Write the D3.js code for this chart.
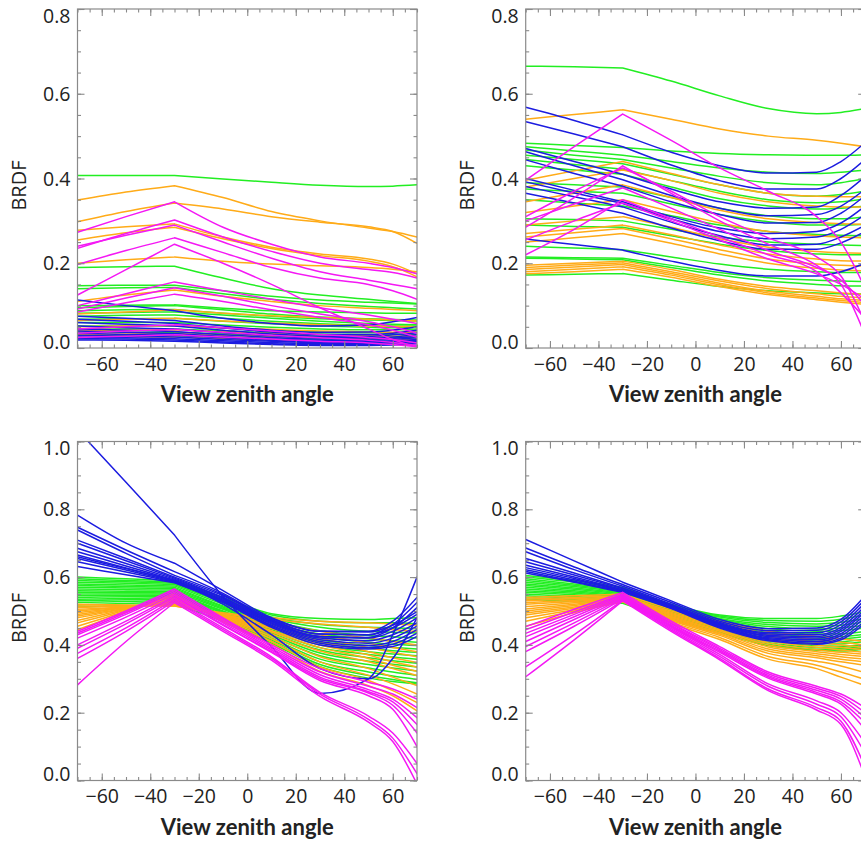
<!DOCTYPE html>
<html><head><meta charset="utf-8">
<script src="https://cdn.jsdelivr.net/npm/d3@7"></script>
<style>body{margin:0;background:#fff} svg{display:block}</style>
</head><body>
<script>
// View zenith angles at which each BRDF curve is sampled
const angles = [-70, -50, -30, -10, 10, 30, 50, 60, 70];
const xTicks = [-60, -40, -20, 0, 20, 40, 60];
const yTicksTop = [0, 0.2, 0.4, 0.6, 0.8];
const yTicksBottom = [0, 0.2, 0.4, 0.6, 0.8, 1.0];

// ---------- top-left panel ----------
const tlGreen = [
 [0.407,0.407,0.407,0.399,0.391,0.384,0.381,0.382,0.385],
 [0.190,0.192,0.193,0.165,0.140,0.125,0.115,0.110,0.105],
 [0.147,0.148,0.148,0.135,0.122,0.113,0.108,0.106,0.104],
 [0.140,0.142,0.143,0.128,0.115,0.105,0.098,0.095,0.092],
 [0.100,0.101,0.102,0.094,0.088,0.085,0.083,0.082,0.082],
 [0.095,0.098,0.100,0.090,0.080,0.073,0.069,0.067,0.066],
 [0.088,0.090,0.091,0.082,0.075,0.069,0.066,0.065,0.064],
 [0.082,0.084,0.085,0.078,0.070,0.063,0.058,0.056,0.055],
 [0.075,0.077,0.078,0.070,0.063,0.057,0.053,0.052,0.052],
 [0.068,0.069,0.070,0.063,0.057,0.052,0.049,0.048,0.050],
 [0.060,0.060,0.060,0.054,0.049,0.045,0.043,0.043,0.045],
 [0.052,0.052,0.052,0.047,0.042,0.038,0.036,0.036,0.038],
 [0.045,0.045,0.045,0.040,0.036,0.033,0.031,0.031,0.032],
 [0.038,0.037,0.037,0.033,0.030,0.027,0.025,0.025,0.026],
 [0.030,0.029,0.029,0.026,0.023,0.021,0.020,0.020,0.021]
];
const tlOrange = [
 [0.349,0.368,0.383,0.355,0.322,0.300,0.283,0.275,0.262],
 [0.298,0.322,0.342,0.328,0.310,0.297,0.286,0.275,0.247],
 [0.278,0.286,0.293,0.262,0.238,0.222,0.210,0.198,0.175],
 [0.255,0.272,0.285,0.258,0.235,0.218,0.205,0.192,0.168],
 [0.200,0.208,0.215,0.205,0.198,0.194,0.190,0.186,0.180],
 [0.110,0.125,0.137,0.122,0.110,0.100,0.094,0.091,0.088],
 [0.080,0.085,0.090,0.082,0.076,0.072,0.068,0.066,0.064],
 [0.065,0.068,0.070,0.064,0.059,0.055,0.052,0.051,0.050],
 [0.050,0.052,0.053,0.048,0.044,0.040,0.038,0.037,0.037],
 [0.040,0.042,0.043,0.038,0.034,0.031,0.029,0.028,0.028],
 [0.032,0.033,0.034,0.030,0.027,0.024,0.022,0.021,0.020],
 [0.025,0.026,0.026,0.022,0.019,0.017,0.015,0.014,0.013]
];
const tlBlue = [
 [0.113,0.100,0.088,0.070,0.058,0.052,0.055,0.062,0.072],
 [0.075,0.070,0.065,0.052,0.042,0.037,0.038,0.042,0.050],
 [0.068,0.063,0.058,0.047,0.038,0.032,0.032,0.035,0.042],
 [0.060,0.056,0.052,0.042,0.033,0.028,0.028,0.031,0.036],
 [0.052,0.048,0.045,0.036,0.029,0.024,0.024,0.026,0.032],
 [0.045,0.042,0.039,0.031,0.025,0.021,0.021,0.023,0.027],
 [0.040,0.037,0.034,0.027,0.021,0.018,0.018,0.020,0.024],
 [0.035,0.032,0.030,0.024,0.018,0.015,0.015,0.017,0.020],
 [0.030,0.028,0.026,0.020,0.016,0.013,0.013,0.015,0.018],
 [0.026,0.024,0.022,0.017,0.013,0.010,0.010,0.012,0.015],
 [0.022,0.021,0.019,0.014,0.010,0.008,0.008,0.009,0.012],
 [0.019,0.018,0.016,0.012,0.008,0.006,0.006,0.007,0.010]
];
const tlMagenta = [
 [0.273,0.310,0.345,0.285,0.245,0.215,0.200,0.190,0.175],
 [0.235,0.270,0.302,0.262,0.228,0.200,0.185,0.178,0.165],
 [0.240,0.266,0.290,0.250,0.212,0.180,0.160,0.150,0.140],
 [0.197,0.230,0.260,0.225,0.190,0.165,0.150,0.135,0.115],
 [0.125,0.185,0.245,0.200,0.150,0.095,0.045,0.020,0.002],
 [0.100,0.128,0.156,0.135,0.115,0.095,0.078,0.068,0.058],
 [0.092,0.118,0.142,0.122,0.100,0.080,0.062,0.050,0.035],
 [0.085,0.107,0.127,0.110,0.090,0.072,0.055,0.042,0.025],
 [0.045,0.050,0.055,0.048,0.040,0.032,0.025,0.020,0.012],
 [0.035,0.040,0.044,0.037,0.030,0.024,0.018,0.013,0.006],
 [0.025,0.028,0.031,0.026,0.021,0.016,0.012,0.008,0.003]
];

// ---------- top-right panel ----------
const trGreen = [
 [0.665,0.664,0.661,0.630,0.595,0.565,0.553,0.556,0.565],
 [0.483,0.478,0.473,0.465,0.459,0.456,0.455,0.455,0.456],
 [0.475,0.465,0.455,0.440,0.425,0.415,0.412,0.415,0.420],
 [0.467,0.455,0.445,0.425,0.405,0.390,0.385,0.390,0.400],
 [0.455,0.445,0.435,0.410,0.385,0.365,0.358,0.362,0.370],
 [0.445,0.433,0.422,0.395,0.370,0.350,0.343,0.345,0.352],
 [0.430,0.420,0.410,0.380,0.352,0.335,0.328,0.330,0.335],
 [0.390,0.385,0.380,0.355,0.330,0.312,0.305,0.305,0.310],
 [0.375,0.370,0.365,0.340,0.315,0.298,0.290,0.290,0.292],
 [0.350,0.342,0.335,0.312,0.290,0.275,0.268,0.266,0.265],
 [0.305,0.303,0.300,0.280,0.262,0.250,0.245,0.243,0.242],
 [0.290,0.287,0.285,0.265,0.245,0.230,0.222,0.220,0.220],
 [0.240,0.236,0.232,0.215,0.198,0.186,0.180,0.178,0.178],
 [0.215,0.213,0.212,0.195,0.178,0.166,0.160,0.158,0.157],
 [0.212,0.210,0.208,0.190,0.172,0.158,0.150,0.147,0.146],
 [0.172,0.174,0.176,0.160,0.145,0.135,0.130,0.128,0.127]
];
const trOrange = [
 [0.540,0.551,0.562,0.540,0.517,0.500,0.490,0.483,0.475],
 [0.396,0.418,0.440,0.412,0.385,0.365,0.358,0.357,0.357],
 [0.380,0.400,0.420,0.395,0.365,0.345,0.335,0.333,0.333],
 [0.345,0.365,0.385,0.355,0.325,0.305,0.296,0.293,0.292],
 [0.320,0.335,0.350,0.322,0.295,0.275,0.265,0.262,0.260],
 [0.290,0.300,0.310,0.285,0.258,0.238,0.228,0.225,0.223],
 [0.270,0.280,0.290,0.267,0.243,0.222,0.210,0.206,0.205],
 [0.262,0.272,0.282,0.258,0.232,0.210,0.198,0.195,0.193],
 [0.250,0.260,0.270,0.247,0.222,0.200,0.188,0.184,0.182],
 [0.195,0.200,0.205,0.185,0.162,0.145,0.135,0.130,0.126],
 [0.190,0.196,0.201,0.180,0.158,0.140,0.128,0.122,0.118],
 [0.185,0.191,0.197,0.176,0.153,0.134,0.122,0.116,0.112],
 [0.180,0.186,0.192,0.172,0.149,0.130,0.118,0.112,0.107],
 [0.175,0.180,0.186,0.167,0.145,0.126,0.114,0.108,0.103]
];
const trBlue = [
 [0.568,0.537,0.503,0.462,0.430,0.413,0.415,0.440,0.485],
 [0.534,0.505,0.475,0.432,0.395,0.375,0.375,0.400,0.445],
 [0.471,0.440,0.410,0.375,0.345,0.330,0.333,0.360,0.405],
 [0.463,0.430,0.397,0.360,0.330,0.312,0.315,0.335,0.375],
 [0.444,0.412,0.382,0.345,0.315,0.295,0.296,0.318,0.360],
 [0.400,0.372,0.345,0.310,0.283,0.270,0.275,0.295,0.335],
 [0.392,0.366,0.341,0.305,0.275,0.258,0.262,0.280,0.315],
 [0.381,0.357,0.333,0.297,0.265,0.243,0.245,0.262,0.290],
 [0.365,0.342,0.318,0.283,0.253,0.233,0.233,0.248,0.275],
 [0.257,0.244,0.231,0.205,0.183,0.170,0.170,0.180,0.200]
];
const trMagenta = [
 [0.396,0.475,0.552,0.490,0.425,0.370,0.310,0.250,0.140],
 [0.310,0.370,0.425,0.370,0.310,0.260,0.215,0.170,0.060],
 [0.285,0.355,0.430,0.365,0.300,0.245,0.195,0.150,0.030],
 [0.300,0.340,0.378,0.330,0.280,0.230,0.190,0.160,0.100],
 [0.255,0.300,0.342,0.300,0.255,0.210,0.175,0.150,0.115],
 [0.220,0.280,0.350,0.305,0.262,0.220,0.180,0.130,0.070]
];

// ---------- bottom-left panel ----------
const blGreen = [
 [0.600,0.595,0.590,0.540,0.492,0.478,0.475,0.478,0.480],
 [0.595,0.590,0.585,0.535,0.488,0.470,0.465,0.465,0.462],
 [0.590,0.586,0.582,0.530,0.482,0.460,0.452,0.450,0.448],
 [0.585,0.582,0.578,0.525,0.478,0.452,0.440,0.437,0.435],
 [0.580,0.577,0.574,0.520,0.472,0.442,0.428,0.424,0.420],
 [0.575,0.572,0.570,0.515,0.465,0.432,0.418,0.412,0.408],
 [0.570,0.568,0.566,0.512,0.460,0.424,0.408,0.402,0.398],
 [0.565,0.563,0.562,0.508,0.455,0.415,0.398,0.392,0.388],
 [0.560,0.558,0.557,0.505,0.450,0.408,0.390,0.383,0.378],
 [0.555,0.554,0.553,0.500,0.445,0.400,0.380,0.373,0.368],
 [0.550,0.550,0.550,0.497,0.440,0.392,0.372,0.364,0.358],
 [0.545,0.546,0.547,0.494,0.435,0.385,0.362,0.353,0.346],
 [0.540,0.542,0.544,0.490,0.430,0.376,0.352,0.343,0.335],
 [0.535,0.537,0.540,0.487,0.425,0.368,0.342,0.332,0.323],
 [0.530,0.533,0.536,0.483,0.420,0.358,0.332,0.320,0.310],
 [0.525,0.528,0.532,0.480,0.415,0.350,0.320,0.308,0.298],
 [0.518,0.522,0.527,0.476,0.410,0.342,0.310,0.298,0.288],
 [0.512,0.516,0.520,0.470,0.405,0.336,0.302,0.292,0.285]
];
const blOrange = [
 [0.520,0.518,0.515,0.495,0.480,0.470,0.465,0.462,0.458],
 [0.515,0.515,0.515,0.492,0.475,0.462,0.452,0.445,0.440],
 [0.510,0.515,0.520,0.490,0.465,0.440,0.420,0.410,0.400],
 [0.505,0.512,0.520,0.488,0.458,0.430,0.405,0.392,0.380],
 [0.500,0.512,0.525,0.487,0.452,0.420,0.392,0.378,0.365],
 [0.495,0.510,0.528,0.485,0.448,0.410,0.380,0.362,0.348],
 [0.490,0.510,0.532,0.484,0.442,0.400,0.370,0.350,0.335],
 [0.485,0.508,0.535,0.482,0.438,0.392,0.360,0.340,0.322],
 [0.480,0.507,0.538,0.480,0.432,0.382,0.350,0.330,0.310],
 [0.472,0.505,0.540,0.478,0.425,0.365,0.330,0.305,0.280],
 [0.465,0.503,0.545,0.476,0.418,0.350,0.310,0.285,0.255],
 [0.455,0.500,0.548,0.472,0.410,0.335,0.295,0.265,0.230],
 [0.445,0.497,0.550,0.468,0.402,0.322,0.280,0.250,0.205]
];
const blBlue = [
 [1.034,0.880,0.724,0.543,0.395,0.257,0.300,0.430,0.600],
 [0.660,0.625,0.590,0.520,0.430,0.330,0.300,0.360,0.480],
 [0.783,0.700,0.641,0.560,0.480,0.440,0.440,0.470,0.540],
 [0.747,0.680,0.616,0.552,0.475,0.432,0.430,0.460,0.525],
 [0.739,0.670,0.605,0.548,0.470,0.425,0.422,0.450,0.510],
 [0.709,0.655,0.600,0.545,0.478,0.440,0.438,0.458,0.498],
 [0.700,0.648,0.597,0.540,0.472,0.432,0.430,0.450,0.490],
 [0.685,0.640,0.594,0.538,0.468,0.425,0.420,0.440,0.480],
 [0.675,0.633,0.591,0.535,0.465,0.420,0.412,0.430,0.465],
 [0.665,0.627,0.589,0.532,0.462,0.415,0.405,0.420,0.455],
 [0.655,0.621,0.587,0.530,0.458,0.410,0.398,0.410,0.445],
 [0.645,0.615,0.585,0.528,0.455,0.405,0.392,0.402,0.435],
 [0.631,0.607,0.583,0.525,0.452,0.400,0.388,0.395,0.425]
];
const blMagenta = [
 [0.440,0.500,0.565,0.480,0.400,0.330,0.290,0.270,0.240],
 [0.435,0.495,0.560,0.475,0.395,0.320,0.278,0.255,0.215],
 [0.430,0.490,0.555,0.470,0.390,0.312,0.268,0.240,0.185],
 [0.420,0.482,0.550,0.465,0.385,0.305,0.262,0.232,0.165],
 [0.400,0.470,0.545,0.460,0.380,0.300,0.258,0.222,0.140],
 [0.390,0.462,0.540,0.458,0.378,0.295,0.250,0.210,0.100],
 [0.375,0.450,0.535,0.450,0.365,0.260,0.190,0.140,0.050],
 [0.360,0.440,0.530,0.445,0.360,0.255,0.180,0.125,0.020],
 [0.282,0.410,0.525,0.440,0.355,0.248,0.172,0.115,-0.010]
];

// ---------- bottom-right panel ----------
const brGreen = [
 [0.605,0.590,0.570,0.520,0.488,0.478,0.478,0.485,0.498],
 [0.600,0.585,0.567,0.516,0.485,0.472,0.470,0.476,0.488],
 [0.595,0.580,0.563,0.512,0.482,0.466,0.462,0.467,0.478],
 [0.590,0.576,0.560,0.509,0.478,0.460,0.455,0.458,0.468],
 [0.585,0.572,0.557,0.506,0.475,0.454,0.447,0.450,0.458],
 [0.580,0.568,0.554,0.503,0.471,0.448,0.440,0.442,0.450],
 [0.575,0.564,0.551,0.500,0.467,0.442,0.432,0.433,0.440],
 [0.570,0.560,0.548,0.497,0.463,0.436,0.425,0.425,0.432],
 [0.565,0.556,0.545,0.494,0.459,0.430,0.418,0.418,0.425],
 [0.560,0.552,0.542,0.491,0.455,0.424,0.411,0.410,0.417],
 [0.555,0.548,0.539,0.488,0.451,0.418,0.404,0.403,0.410],
 [0.550,0.543,0.535,0.485,0.447,0.412,0.398,0.396,0.402],
 [0.545,0.538,0.531,0.482,0.443,0.407,0.392,0.390,0.396],
 [0.540,0.533,0.527,0.479,0.439,0.402,0.387,0.385,0.392],
 [0.535,0.528,0.523,0.476,0.436,0.398,0.384,0.382,0.388]
];
const brOrange = [
 [0.540,0.545,0.550,0.505,0.470,0.440,0.425,0.418,0.410],
 [0.535,0.540,0.545,0.500,0.465,0.432,0.416,0.408,0.400],
 [0.530,0.536,0.542,0.496,0.460,0.425,0.408,0.400,0.392],
 [0.525,0.532,0.540,0.493,0.456,0.418,0.400,0.392,0.385],
 [0.520,0.528,0.538,0.490,0.452,0.412,0.393,0.385,0.378],
 [0.513,0.524,0.536,0.487,0.448,0.406,0.386,0.378,0.372],
 [0.506,0.520,0.535,0.484,0.444,0.400,0.380,0.372,0.365],
 [0.500,0.516,0.533,0.481,0.440,0.394,0.374,0.365,0.358],
 [0.494,0.512,0.532,0.478,0.436,0.388,0.368,0.358,0.350],
 [0.488,0.508,0.530,0.475,0.432,0.382,0.362,0.350,0.340],
 [0.480,0.504,0.529,0.472,0.428,0.375,0.352,0.338,0.318],
 [0.470,0.500,0.528,0.468,0.422,0.366,0.340,0.320,0.298],
 [0.455,0.495,0.527,0.464,0.416,0.358,0.330,0.305,0.280]
];
const brBlue = [
 [0.711,0.648,0.585,0.530,0.475,0.448,0.450,0.475,0.545],
 [0.686,0.630,0.578,0.525,0.470,0.442,0.443,0.468,0.535],
 [0.675,0.622,0.573,0.520,0.466,0.436,0.436,0.460,0.525],
 [0.655,0.612,0.568,0.517,0.463,0.432,0.430,0.452,0.515],
 [0.645,0.606,0.566,0.515,0.461,0.428,0.425,0.446,0.505],
 [0.635,0.600,0.563,0.513,0.459,0.425,0.420,0.440,0.498],
 [0.628,0.596,0.561,0.512,0.457,0.421,0.415,0.433,0.490],
 [0.622,0.592,0.559,0.510,0.455,0.418,0.410,0.427,0.482],
 [0.617,0.588,0.557,0.509,0.453,0.415,0.405,0.420,0.472],
 [0.612,0.585,0.555,0.507,0.450,0.412,0.402,0.415,0.465]
];
const brMagenta = [
 [0.454,0.505,0.555,0.470,0.395,0.320,0.278,0.255,0.215],
 [0.445,0.497,0.550,0.465,0.390,0.315,0.272,0.248,0.200],
 [0.434,0.490,0.547,0.462,0.386,0.310,0.266,0.240,0.185],
 [0.424,0.483,0.544,0.458,0.382,0.306,0.260,0.232,0.170],
 [0.410,0.475,0.541,0.455,0.378,0.302,0.255,0.225,0.150],
 [0.395,0.465,0.538,0.452,0.372,0.285,0.235,0.200,0.110],
 [0.380,0.455,0.535,0.448,0.366,0.278,0.225,0.188,0.080],
 [0.335,0.430,0.532,0.444,0.360,0.270,0.215,0.175,0.040],
 [0.306,0.415,0.530,0.440,0.356,0.265,0.208,0.165,0.010]
];

const colors = {green: "#22ee22", orange: "#ffab18", blue: "#1c1ce0", magenta: "#f418f4"};
const drawOrder = ["green", "orange", "blue", "magenta"];

const panels = [
  {left: 77.5, top: 9, ymax: 0.8, yticks: yTicksTop,
   series: {green: tlGreen, orange: tlOrange, blue: tlBlue, magenta: tlMagenta}},
  {left: 525.7, top: 9, ymax: 0.8, yticks: yTicksTop,
   series: {green: trGreen, orange: trOrange, blue: trBlue, magenta: trMagenta}},
  {left: 77.5, top: 441.5, ymax: 1.0, yticks: yTicksBottom,
   series: {green: blGreen, orange: blOrange, blue: blBlue, magenta: blMagenta}},
  {left: 525.7, top: 441.5, ymax: 1.0, yticks: yTicksBottom,
   series: {green: brGreen, orange: brOrange, blue: brBlue, magenta: brMagenta}}
];

const W = 861, H = 841, PW = 339.5, PH = 339;
const axisColor = "#8a8a8a", textColor = "#222";
const svg = d3.select("body").append("svg").attr("width", W).attr("height", H);

panels.forEach((p, i) => {
  const x = d3.scaleLinear().domain([-70, 70]).range([0, PW]);
  const y = d3.scaleLinear().domain([0, p.ymax]).range([PH, 0]);
  const g = svg.append("g").attr("transform", `translate(${p.left},${p.top})`);
  const clipId = "clip" + i;
  g.append("clipPath").attr("id", clipId).append("rect")
    .attr("width", PW).attr("height", PH);

  const seg = d3.line().x(d => x(d[0])).y(d => y(d[1])).curve(d3.curveMonotoneX);
  const lines = g.append("g").attr("clip-path", `url(#${clipId})`);
  drawOrder.forEach(c => {
    p.series[c].forEach(vals => {
      const pts = angles.map((a, k) => [a, vals[k]]);
      lines.append("path")
        .attr("d", seg(pts.slice(0, 3)) + seg(pts.slice(2)))
        .attr("fill", "none").attr("stroke", colors[c])
        .attr("stroke-width", 1.5)
        .attr("stroke-linejoin", "round").attr("stroke-linecap", "round");
    });
  });

  const minorX = d3.range(-70, 70.1, 5);
  const minorY = d3.range(0, p.ymax + 1e-9, 0.05);
  const styleAxis = sel => {
    sel.select(".domain").remove();
    sel.selectAll(".tick line").attr("stroke", axisColor).attr("stroke-width", 1.1);
  };
  g.append("g").attr("transform", `translate(0,${PH})`)
    .call(d3.axisBottom(x).tickValues(minorX).tickSize(-3.5).tickFormat(""))
    .call(styleAxis);
  g.append("g")
    .call(d3.axisTop(x).tickValues(minorX).tickSize(-3.5).tickFormat(""))
    .call(styleAxis);
  g.append("g")
    .call(d3.axisLeft(y).tickValues(minorY).tickSize(-3.5).tickFormat(""))
    .call(styleAxis);
  g.append("g").attr("transform", `translate(${PW},0)`)
    .call(d3.axisRight(y).tickValues(minorY).tickSize(-3.5).tickFormat(""))
    .call(styleAxis);

  const fontFam = "'Open Sans', 'DejaVu Sans', sans-serif";
  const bx = g.append("g").attr("transform", `translate(0,${PH})`)
    .call(d3.axisBottom(x).tickValues(xTicks).tickSize(-7).tickPadding(9))
    .call(styleAxis);
  bx.selectAll("text").attr("fill", textColor).style("font-family", fontFam).style("font-size", "19.5px");
  g.append("g")
    .call(d3.axisTop(x).tickValues(xTicks).tickSize(-7).tickFormat(""))
    .call(styleAxis);
  const ly = g.append("g")
    .call(d3.axisLeft(y).tickValues(p.yticks).tickSize(-7).tickPadding(7).tickFormat(d3.format(".1f")))
    .call(styleAxis);
  ly.selectAll("text").attr("fill", textColor).style("font-family", fontFam).style("font-size", "19.5px")
    .attr("dy", d => d === 0 ? "0.02em" : (Math.abs(d - p.ymax) < 1e-9 ? "0.68em" : "0.34em"));
  g.append("g").attr("transform", `translate(${PW},0)`)
    .call(d3.axisRight(y).tickValues(p.yticks).tickSize(-7).tickFormat(""))
    .call(styleAxis);

  g.append("rect").attr("width", PW).attr("height", PH)
    .attr("fill", "none").attr("stroke", axisColor).attr("stroke-width", 1.2);

  g.append("text").attr("x", x(0)).attr("y", PH + 54)
    .attr("text-anchor", "middle").attr("fill", textColor)
    .style("font-family", "Lato, 'Open Sans', sans-serif").style("font-weight", "bold").style("font-size", "22px")
    .text("View zenith angle");
  g.append("text")
    .attr("transform", `translate(-52,${PH / 2 + 7}) rotate(-90)`)
    .attr("text-anchor", "middle").attr("fill", textColor)
    .style("font-family", fontFam).style("font-size", "20px")
    .text("BRDF");
});
</script>
</body></html>
